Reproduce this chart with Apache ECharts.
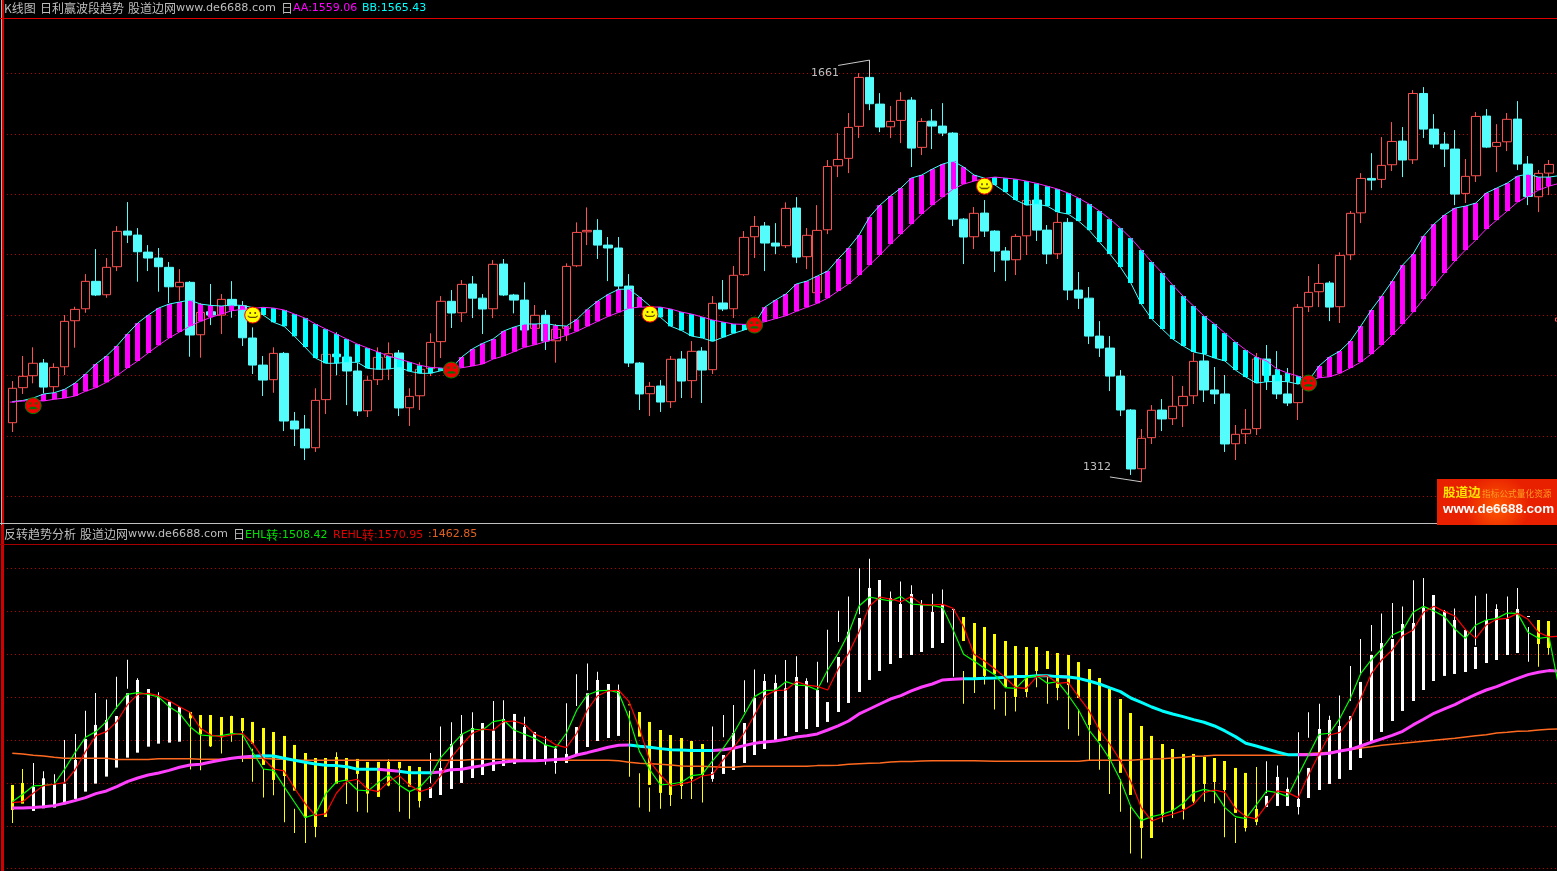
<!DOCTYPE html>
<html><head><meta charset="utf-8">
<style>html,body{margin:0;padding:0;background:#000;overflow:hidden}#c{width:1557px;height:871px}</style>
<script src="https://cdn.jsdelivr.net/npm/echarts@6/dist/echarts.min.js"></script>
</head><body><div id="c"></div>
<script>
const open=[1360.9,1389.9,1399.8,1410.3,1390.7,1407.2,1445.3,1455.2,1477.9,1466.8,
1490,1519.5,1516.2,1502.1,1497.2,1489.5,1473.4,1477.1,1433.7,1452.7,
1450,1463,1457.7,1431,1408.6,1396.5,1418.3,1362.3,1355.7,1340.2,
1380,1417.7,1415.3,1403.7,1370.8,1396.5,1415,1418.6,1373.3,1383.2,
1405.6,1428,1461.4,1451.9,1475.7,1464,1455.2,1492.2,1466.6,1462.4,
1439,1449.8,1428.7,1439,1490.8,1518.9,1520.1,1507.9,1505.5,1474,
1410.3,1384.9,1391.3,1378.3,1413.6,1395.7,1420.2,1404.8,1460,1455.2,
1483.4,1514.8,1523.7,1509.6,1507.4,1538.6,1498.3,1468.5,1520.6,1573.5,
1579.7,1606.2,1646.7,1624.6,1605.8,1611.1,1627.9,1588.8,1610.5,1606.4,
1600.6,1529.4,1514.8,1534.4,1519.5,1503,1495.8,1515.6,1545.2,1520.3,
1500.7,1526.7,1470.7,1464,1432.6,1422.7,1399.5,1371.4,1322.8,1348.5,
1371.4,1364.2,1375,1383.2,1412,1388,1384.7,1343.5,1351.8,1356,
1413.6,1400.1,1384.7,1377.5,1456.9,1469.3,1476.5,1456.9,1499.9,1534.6,
1563.1,1562.3,1574.4,1594,1578.5,1633.4,1603.9,1591.5,1587.4,1550.7,
1565.3,1614.7,1589.6,1593.4,1612.2,1575,1547.9,1567.5,1445];
const close=[1389.4,1399.3,1410.1,1390.4,1406.7,1444.8,1454.7,1477.9,1466.6,1489.5,
1519.3,1516.2,1502.4,1497.2,1490,1473.4,1477.1,1433.5,1452.2,1450,
1463,1457.7,1431.2,1408.6,1396.2,1418.3,1362.3,1355.7,1340,1379.4,
1417.5,1415.5,1403.7,1370.6,1396,1415,1418,1373.1,1382.7,1405.1,
1427.4,1461.4,1451.7,1475.4,1464,1455,1492,1466.6,1462.4,1437.6,
1449.8,1428.5,1438.2,1490.3,1518.4,1520.1,1507.9,1505.5,1474,1410.3,
1384.7,1391,1378,1413.4,1395.4,1420,1404.5,1459.7,1455,1482.9,
1514.3,1523.4,1509.6,1507.1,1538.3,1498,1516,1520.1,1573,1578.8,
1605.3,1646.7,1624.9,1605.6,1610.3,1627.7,1588.2,1610.3,1606.4,1600.6,
1529.4,1514.6,1534.2,1519.5,1503,1495.5,1515.1,1544.9,1520.3,1500.5,
1526.7,1470.7,1464,1432.6,1422.7,1399.5,1371.4,1322.6,1348,1371.2,
1364,1374.5,1382.7,1411.7,1388,1384.7,1343.3,1351.3,1355.5,1413.6,
1400.1,1384.7,1377.2,1456.4,1468.8,1476.2,1456.6,1499.4,1534.2,1563.1,
1561.7,1573.9,1593.7,1578.3,1633.4,1603.9,1591.5,1587.4,1550.1,1564.8,
1614.4,1589,1592.9,1612,1575,1548.2,1567.3,1574.7,1447.5];
const high=[1395.4,1416.1,1423.3,1413.6,1410.1,1450,1456.9,1483.9,1504.6,1497.2,
1523.6,1543.5,1522,1507.9,1505.5,1493.9,1488,1478.1,1460,1475.7,
1467.4,1478.1,1461.6,1439.8,1416.1,1423.3,1419.4,1369.8,1367.3,1389.4,
1421.9,1435.7,1423,1410.3,1399.5,1423.3,1427.4,1421.1,1389.4,1410.9,
1434.9,1465.7,1470.7,1479,1482.3,1467.4,1495.5,1496.4,1467.5,1477.1,
1458.3,1454.2,1442.6,1492.8,1526.7,1539.1,1529.4,1514.6,1514.6,1483.9,
1411.1,1394.6,1396.2,1416.1,1420.2,1428.5,1423.5,1465.7,1479,1490.6,
1519.5,1532,1527,1526.1,1543.3,1547.6,1522,1541,1578.3,1600.6,
1617.2,1650.2,1661,1633.7,1623,1634.5,1630.4,1613,1620.5,1625.4,
1601.4,1530.3,1539.4,1545.2,1520.3,1506.3,1517,1545.2,1546.5,1524.5,
1534.4,1530.3,1485.6,1473.2,1445,1432.6,1404.5,1372.2,1355.7,1375.5,
1380.5,1399.5,1391.3,1418.6,1418.6,1407,1400.4,1359,1372.2,1418.6,
1425.2,1420.2,1406.2,1459.1,1482.3,1492.2,1478.1,1501.9,1536.1,1567.5,
1584,1597.3,1609.7,1605.6,1636.2,1638.7,1616.3,1601.4,1603.1,1579.1,
1618,1620.5,1608,1617.2,1627.1,1581.6,1570,1578.3,1447.5];
const low=[1353.2,1384.7,1393.5,1385.2,1385.2,1400.4,1423,1451.9,1465.7,1464.3,
1486.4,1509.6,1477.6,1486.4,1469.3,1460,1461.8,1415.5,1414.7,1441.7,
1434.3,1447.8,1424.4,1401.2,1383,1385.7,1354,1341.6,1330,1336.7,
1368.1,1400.1,1375.5,1366.4,1365.6,1392.1,1396.2,1366.4,1358.2,1371.4,
1399.5,1414.4,1439.3,1444.2,1447.5,1434.3,1447.5,1465.7,1451.4,1433.5,
1435.1,1421.1,1410.6,1428.5,1489.7,1507.9,1496.4,1478.1,1471.5,1407,
1371.4,1366.4,1369.8,1373.1,1381.3,1381.3,1377.2,1401.2,1453.3,1447.5,
1482.3,1497.2,1486.4,1500.5,1505.5,1493,1488,1468.2,1517,1564.2,
1567.5,1596.5,1619.6,1601.4,1596.5,1592.3,1572.5,1582.4,1587.4,1598.1,
1523.7,1492.2,1504.6,1514.6,1485.6,1478.1,1483.1,1499.7,1511.3,1492.2,
1496.4,1462.4,1455,1426,1415.3,1387.1,1366.4,1317.6,1312,1343.3,
1354,1359,1357.3,1376.4,1378,1376.4,1336.7,1330,1343.3,1350.7,
1388,1380.5,1374.7,1363.1,1452.5,1456.6,1445,1443.4,1495.5,1526.1,
1553.4,1555.1,1569.2,1564.2,1575,1596.5,1588.2,1572.5,1541,1542.7,
1560.1,1588.2,1568.3,1585.7,1570,1541,1535.2,1549.3,1445];
const AA=[1378,1379.1,1379.3,1378.9,1380.3,1381.3,1383,1386.9,1389.9,1394.3,
1399.8,1406.2,1412,1418.6,1425,1431,1436,1440.9,1444.8,1448.1,
1450.8,1453.6,1454.7,1455.4,1456.4,1455.8,1454.2,1450.8,1447.5,1442.6,
1438.4,1434.3,1430.2,1426,1422.7,1419.4,1416.1,1413.6,1411.1,1408.4,
1406.7,1406.2,1404.9,1406.4,1407.8,1409.5,1413.6,1416.1,1419.7,1423.3,
1425.4,1428,1430.4,1433.2,1436.5,1440.7,1444.8,1448.9,1452.2,1455.6,
1456.6,1456.6,1456.6,1455,1452.5,1450.8,1448.4,1445.9,1444.2,1442.6,
1442.3,1442.5,1444.5,1447,1449.4,1453.1,1456.4,1459.7,1464,1469.9,
1475.7,1483.1,1491.4,1499.7,1508.8,1517,1525.3,1533.6,1541,1547.6,
1554.3,1558.4,1560.9,1563,1564.2,1563.4,1562.5,1560.9,1559,1556.7,
1554.3,1551,1546.8,1541.9,1536.1,1529.4,1522,1513.7,1503.8,1493.9,
1484.8,1474.8,1465.7,1457.5,1449.2,1442.6,1435.1,1427.7,1421.1,1415.3,
1412,1405.3,1402,1399.5,1395.4,1398.1,1398.9,1401.8,1406.2,1411.1,
1417.7,1425.2,1433.5,1442.6,1452.5,1463.2,1474,1484.8,1494.7,1503.8,
1512.1,1521.2,1528.6,1536.1,1543.5,1548.5,1553.4,1556.7,1559.06];
const BB=[1378.4,1379.3,1381.3,1384.7,1385.7,1388.5,1393.7,1401.2,1409.5,1416.1,
1424.4,1434.3,1443.4,1450,1455.8,1459.1,1460.8,1462.4,1459.1,1458,
1457.5,1458.3,1458,1456.2,1450,1444,1440.7,1432.4,1423.5,1414.4,
1410.1,1410.1,1410.9,1410.9,1405.9,1405.1,1405.3,1406.7,1403.4,1401.8,
1401.8,1403.9,1405.8,1415.3,1421.9,1426.6,1430.2,1436.8,1440.1,1442.6,
1442.6,1443.1,1441.5,1440.9,1446.4,1454.7,1461.6,1467.1,1471.3,1471.5,
1464.9,1457.5,1448.1,1440.7,1437.3,1432.6,1431,1428.3,1431.6,1434.9,
1437.6,1442.7,1456.6,1462.4,1467.4,1475.7,1478.1,1482.3,1486.4,1496.4,
1505.5,1516.2,1531.1,1541,1548.5,1555.1,1563.4,1565.9,1570.8,1575,
1577.4,1572.5,1565.9,1563.3,1557.6,1551.8,1545.2,1541,1541.8,1540.2,
1535.2,1533.6,1527.8,1520.3,1510.4,1500.5,1489.7,1476.5,1459.1,1446.7,
1438.4,1430.2,1424.4,1419.4,1417.7,1414.4,1412,1404.5,1398.7,1393.7,
1394.8,1395.2,1394.8,1392.9,1395.6,1407.8,1415.3,1420.2,1428.5,1440.9,
1454.2,1465.7,1478.1,1491.4,1500.5,1515.4,1525.3,1532.8,1538.5,1540.2,
1542.7,1551,1555.1,1559.2,1565,1566.7,1564.2,1564.2,1565.43];
const frownIdx=[2,42,71,124], frownVal=[1375,1404.5,1441.7,1393.7];
const smileIdx=[23,61,93], smileVal=[1450,1450.8,1556.7];
const bodyTop=[1397.6,1399.9,1395.2,1405.3,1398.4,1399.1,1426.7,1451.2,1467.5,1473.3,
1477.9,1504.4,1519.9,1509.4,1500.1,1494.6,1488.4,1482.6,1479.1,1479.1,
1476.8,1477.9,1475.6,1471,1464,1459.3,1454.7,1444.2,1434.8,1429,
1429,1430.2,1429,1427.9,1424.4,1424.4,1424.4,1424.4,1419.7,1418.5,
1394.9,1417.4,1445.3,1457,1464,1469.8,1460.9,1474.5,1480.3,1465.1,
1459.3,1444.2,1439.9,1433.7,1465.1,1504.4,1519.9,1515.2,1508.2,1491.5,
1482.6,1471,1461.6,1455.8,1452.3,1448.8,1445.3,1412.7,1432.5,1458.1,
1469.8,1498.9,1518.7,1516.4,1510.2,1523.4,1518.7,1508.2,1494.2,1546.7,
1576.2,1592.1,1627.1,1636.4,1615.4,1608.4,1620.1,1607.3,1599.1,1607.3,
1602.6,1593.3,1586.3,1581.6,1573.5,1565.3,1559.5,1558.3,1558.3,1553.7,
1551.3,1549,1540.8,1532.7,1522.2,1509.4,1497.7,1481.4,1466.3,1454.7,
1445.3,1439.5,1433.7,1433.7,1430.2,1429,1425.5,1417.4,1411.6,1369.6,
1384.8,1406.9,1392.9,1381.3,1417.4,1462.8,1473.3,1466.3,1477.9,1517.6,
1549,1563,1567.6,1585.1,1586.3,1604.2,1618.9,1600.3,1589.8,1578.1,
1558.3,1589.8,1602.6,1590.9,1602.6,1594.4,1589.8,1588.6];
const bodyBot=[1368.4,1375.8,1367.3,1370.4,1371.2,1375,1381.3,1389.8,1399.1,1407.3,
1417.8,1429.4,1435.2,1442.2,1445.7,1446.9,1448,1475.2,1456.6,1442.6,
1453.1,1457.4,1460.5,1445.7,1420.9,1403.4,1408,1391,1359.5,1348.6,
1360.3,1399.1,1402.2,1410.4,1387.5,1383.6,1396.8,1417,1395.6,1378.9,
1382.4,1385.9,1392.9,1399.9,1405.7,1409.2,1413.9,1419.7,1422.1,1426.7,
1426.7,1426.7,1423.2,1423.2,1432.5,1441.8,1448.8,1452.3,1454.7,1490.8,
1453.9,1397.6,1388.3,1385.9,1396.4,1404.6,1409.2,1404.6,1410.4,1415,
1423.2,1432.5,1439.5,1448.8,1454.7,1459.3,1462.8,1465.1,1471,1482.6,
1493.1,1505.9,1519.9,1530.4,1538.5,1545.5,1549,1552.5,1557.2,1563,
1601.8,1565.3,1522.2,1524.6,1526.9,1511.7,1500.1,1505.9,1530.4,1532.7,
1510.6,1514.1,1498.9,1467.5,1448.8,1427.9,1411.6,1385.9,1347.5,1335.8,
1362.6,1367.3,1369.6,1378.2,1398.7,1401,1391.7,1365,1347.5,1354.5,
1371.9,1373.1,1373.1,1371.9,1382.4,1391.7,1398.7,1404.6,1415,1429,
1447.7,1459.3,1472.1,1483.8,1495.4,1508.2,1518.7,1524.6,1526.9,1529.2,
1532.7,1539.7,1543.2,1549,1551.3,1593.7,1561.8,1557.2];
const yellowRuns=[[0,1],[17,39],[59,66],[91,119],[146,147]];
const EHL=[1378.1,1386.7,1396.4,1397.2,1398.4,1415.8,1435.2,1453.1,1459.7,1471.4,
1488.4,1503.2,1505.1,1503.2,1500.1,1488.8,1481.1,1465.5,1455.8,1454.7,
1455,1457.4,1456.6,1435.6,1416.2,1414.6,1395.6,1377.4,1359.5,1363.4,
1387.5,1401,1403.4,1391.7,1390.6,1400.3,1409.2,1397.6,1389.8,1395.2,
1408.5,1429.8,1443.4,1456.6,1462.8,1461.6,1471.4,1473.3,1461.6,1456.6,
1451.9,1444.2,1441.1,1457.8,1484.9,1502.4,1507.1,1507.9,1505.1,1475.2,
1436.4,1415,1397.6,1398.7,1400.7,1408.5,1410,1425.9,1440.3,1457.8,
1479.1,1500.5,1507.5,1508.2,1517.9,1514,1513.3,1508.2,1531.5,1550.9,
1574.3,1606.1,1616.6,1614.2,1611.9,1617,1608.4,1607.3,1606.9,1604.2,
1578.1,1549.8,1542,1533.5,1525.7,1510.9,1510.2,1522.6,1524.9,1516,
1517.9,1502.4,1484.9,1461.6,1446.1,1427.5,1403.4,1372.3,1356,1360.7,
1363.4,1367.7,1376.2,1388.6,1392.5,1389.8,1371.2,1360.7,1358.3,1374.3,
1390.6,1388.6,1384,1408.5,1432.5,1456.6,1457.8,1475.2,1498.5,1527.7,
1543.2,1556,1572.3,1577.7,1598.7,1605.7,1600.3,1593.7,1579.3,1568.4,
1584,1589.8,1591.7,1597.9,1597.5,1575.4,1568.4,1570,1508.42];
const REHL=[1377,1378.1,1387.9,1396.8,1398.4,1400.3,1415,1436.4,1455,1459.7,
1471.4,1490.8,1503.2,1504.4,1501.6,1495.8,1488.8,1482.2,1463.6,1455.8,
1453.5,1455.8,1457.8,1446.1,1428.6,1416.2,1413.9,1393.7,1376.2,1361.8,
1364.2,1387.9,1401.8,1404.2,1392.5,1389.8,1401.5,1408.5,1397.6,1389.8,
1393.7,1408.5,1429.8,1444.2,1457.8,1462.8,1461.3,1471.4,1472.1,1468.2,
1456.6,1451.9,1444.2,1441.1,1457.8,1484.9,1501.6,1507.1,1507.9,1494.6,
1463.6,1424.8,1409.2,1396.4,1398.7,1401.5,1408,1410,1426.7,1441.1,
1457.8,1479.1,1501.6,1507.5,1508.2,1517.9,1514,1512.5,1508.2,1532.7,
1550.9,1576.2,1606.1,1616.6,1614.2,1611.1,1617,1608,1607.3,1608,
1603.4,1582,1549.8,1542,1532.7,1522.6,1510.9,1510.2,1523.8,1524.9,
1516,1517.2,1500.5,1484.2,1461.6,1445,1425.9,1401.5,1371.2,1355.6,
1360.3,1363.4,1367.7,1375,1388.6,1391.7,1389,1370.4,1360.7,1358,
1374.3,1390.6,1388.6,1382.8,1409.2,1433.3,1455.8,1458.9,1474.1,1498.5,
1526.9,1543.2,1554.8,1571.5,1578.1,1598.7,1605.7,1599.5,1594.4,1578.9,
1568.4,1584,1590.6,1591.7,1597.5,1590.6,1575.4,1570,1570.95];
const trendLine=[1370.8,1370.8,1371.2,1372.3,1373.5,1376.2,1379.3,1382.8,1387.5,1390.6,
1395.6,1401.5,1405.7,1409.2,1411.6,1414.6,1418.2,1420.9,1421.6,1424.4,
1426.7,1428.6,1430.2,1431,1431.7,1431.4,1428.6,1426.3,1424,1422,
1420.5,1420.1,1418.9,1415.8,1415.8,1415.8,1414.6,1413.5,1411.9,1411.9,
1411.9,1412.7,1415.4,1415.8,1418.2,1420.1,1422.8,1424.4,1425.5,1425.9,
1425.9,1426.3,1427.1,1428.2,1432.5,1435.2,1438.3,1441.5,1443.8,1444.2,
1442.6,1441.5,1439.9,1438.7,1438.3,1437.6,1437.6,1437.6,1438.7,1440.3,
1443.4,1446.1,1447.7,1448.8,1450.8,1453.5,1455,1457,1461.6,1466.3,
1472.1,1480.3,1486.1,1491.9,1497.7,1501.6,1507.1,1511.7,1515.2,1519.9,
1520.7,1521.4,1521.4,1521.8,1522.2,1523,1523.8,1523.8,1524.9,1524.9,
1523.8,1523.4,1521.8,1518.7,1515.2,1510.6,1506.3,1498.9,1493.9,1488.4,
1483.8,1480.3,1477.2,1473.7,1470.6,1466.3,1460.5,1453.9,1446.1,1443,
1439.5,1436,1432.9,1432.9,1432.9,1433.3,1434.5,1437.2,1439.1,1443,
1447.3,1451.2,1455.4,1460.1,1467.5,1474.1,1481.1,1486.1,1491.1,1497.4,
1503.2,1508.2,1512.1,1517.2,1521.8,1526.1,1528.8,1530.8,1530.4];
const trendFallRuns=[[23,35],[37,40],[59,67],[91,100],[101,123]];
const baseLine=[1434.5,1433.7,1432.1,1431.4,1429.8,1428.6,1428.6,1428.6,1428.6,1428.6,
1427.1,1427.1,1427.1,1427.1,1428.2,1428.2,1428.2,1428.2,1427.5,1427.5,
1427.5,1428.6,1428.6,1428.6,1428.6,1427.9,1427.5,1426.7,1426.3,1426.3,
1426.3,1426.3,1426.3,1426.3,1426.3,1426.3,1426.3,1426.3,1426.3,1426.3,
1426.3,1426.3,1426.3,1426.3,1427.1,1427.5,1427.5,1427.5,1427.5,1426.3,
1426.3,1426.3,1426.3,1426.3,1426.3,1426.3,1426.3,1426.3,1425.9,1424,
1422.8,1422.4,1421.6,1420.9,1419.7,1419.3,1419.3,1418.9,1418.1,1418.1,
1419.3,1419.3,1419.3,1419.3,1419.3,1419.3,1419.3,1420.1,1420.1,1420.5,
1421.6,1422.4,1422.8,1423.2,1424.4,1424.8,1424.8,1425.5,1425.9,1425.9,
1425.9,1425.9,1425.9,1425.5,1425.1,1425.1,1425.1,1425.1,1425.1,1425.1,
1425.1,1425.1,1425.1,1426.3,1426.3,1426.3,1426.3,1426.3,1427.1,1427.9,
1428.2,1429,1429.8,1430.9,1431.4,1432.1,1432.1,1432.1,1432.1,1432.1,
1432.1,1432.1,1432.1,1433.7,1434.1,1434.9,1435.6,1437.2,1438.7,1440.7,
1442.2,1443.8,1445,1446.1,1447.3,1448.5,1449.6,1450.8,1451.9,1453.5,
1455,1456.2,1458.1,1458.9,1460.1,1460.5,1461.6,1462.4,1462.85];
const gridTicks={min:1300,max:1700,step:50};
const headUp=[['K线图',4],['日利赢波段趋势',40],['股道边网',128],['www.de6688.com',176],['日',281]];
const headDn=[['反转趋势分析',4],['股道边网',80],['www.de6688.com',128],['日',233]];
const legendUp=[['AA:1559.06','#FF00FF',293],['BB:1565.43','#00FFFF',362]];
const legendDn=[['EHL转:1508.42','#00E000',245],['REHL转:1570.95','#E00000',333],[':1462.85','#E06020',428]];

const cats=close.map((_,i)=>String(i));
const candle=close.map((c,i)=>[open[i],c,low[i],high[i]]);
const band=close.map((_,i)=>[i,AA[i],BB[i]]);
const wick=close.map((_,i)=>[i,low[i],high[i]]);
const body=bodyTop.map((t,i)=>[i,bodyBot[i],t]);
const isYellow=i=>yellowRuns.some(r=>i>=r[0]&&i<=r[1]);
const inFall=i=>trendFallRuns.some(r=>i>=r[0]&&i<=r[1]);
const trendFall=trendLine.map((v,i)=>inFall(i)?v:null);
const trendRise=trendLine.map((v,i)=>(!inFall(i)||trendFallRuns.some(r=>i===r[0]||i===r[1]))?v:null);

function vbar(api,w,color){
  const x=api.value(0),a=api.coord([x,api.value(1)]),b=api.coord([x,api.value(2)]);
  const left=Math.round(a[0]-w/2),top=Math.min(a[1],b[1]);
  return {type:'rect',shape:{x:left,y:top,width:w,height:Math.max(1,Math.abs(a[1]-b[1]))},style:{fill:color}};
}
const lineBase=(name,data,color,width,xi,extra)=>Object.assign({name,type:'line',data,xAxisIndex:xi,yAxisIndex:xi,
  showSymbol:false,symbol:'none',smooth:false,silent:true,connectNulls:false,lineStyle:{color,width}},extra||{});
const SMILE='path://M2 0h2v3H2z M8 0h2v3H8z M0 5h1v1h1v1h8v-1h1v-1h1v2h-1v1h-1v1H2v-1H1v-1H0z';
const FROWN='path://M2 0h2v3H2z M8 0h2v3H8z M3 6h6v1h1v2H2v-2h1z';
const gridY=i=>({type:'value',gridIndex:i,min:gridTicks.min,max:gridTicks.max,interval:gridTicks.step,
  axisLine:{show:false},axisTick:{show:false},axisLabel:{show:false},
  splitLine:{show:true,showMaxLine:false,lineStyle:{color:'#C00000',width:1,type:[1,3]}}});
const gridX=i=>({type:'category',gridIndex:i,data:cats,boundaryGap:true,show:false});
const headTitle=(p,top)=>{const latin=/^www/.test(p[0]);return {left:p[1],top:latin?top+1:top,padding:0,text:p[0],
  textStyle:{color:'#BEBEBE',fontWeight:'normal',fontSize:latin?11.2:12,fontFamily:latin?'"DejaVu Sans"':'"Noto Sans CJK SC"'}};};
const legTitle=(p,top)=>({left:p[2],top,padding:0,text:p[0].replace(/转/,'{z|转}'),
  textStyle:{color:p[1],fontFamily:'"DejaVu Sans"',fontSize:11,fontWeight:'normal',rich:{z:{fontFamily:'"Noto Sans CJK SC"',fontSize:12,fontWeight:'normal',color:p[1]}}}});

const chart=echarts.init(document.getElementById('c'),null,{renderer:'canvas'});
chart.setOption({
  animation:false,backgroundColor:'#000',
  title:[...headUp.map(p=>headTitle(p,2)),...legendUp.map(p=>legTitle(p,3)),
         ...headDn.map(p=>headTitle(p,528)),...legendDn.map(p=>legTitle(p,529))],
  grid:[{left:7.07,top:13,width:1557.6,height:483.3,outerBoundsMode:'none'},
        {left:7.07,top:525.4,width:1557.6,height:343.3,outerBoundsMode:'none'}],
  xAxis:[gridX(0),gridX(1)],yAxis:[gridY(0),gridY(1)],
  series:[
    {name:'K线',type:'candlestick',data:candle,xAxisIndex:0,yAxisIndex:0,barWidth:9,silent:true,
      itemStyle:{color:'#000',color0:'#54FCFC',borderColor:'#FF5050',borderColor0:'#54FCFC',borderColorDoji:'#FF5050',borderWidth:1},
      markLine:{silent:true,symbol:'none',label:{show:false},lineStyle:{color:'#C8C8C8',width:1,type:'solid'},animation:false,
        data:[[{coord:[79,1656.6]},{coord:[82,1661]}],[{coord:[82,1661]},{coord:[82,1646.7]}],
              [{coord:[105,1316]},{coord:[108,1312]}]]},
      markPoint:{silent:true,symbol:'circle',symbolSize:0,animation:false,
        label:{show:true,color:'#BEBEBE',fontFamily:'"DejaVu Sans"',fontSize:11,position:'inside'},
        data:[{coord:[78,1650],value:1661,label:{offset:[-2.7,0]}},{coord:[104,1324.3],value:1312,label:{offset:[-2.5,0]}}]}},
    {name:'band',type:'custom',data:band,xAxisIndex:0,yAxisIndex:0,silent:true,encode:{x:0,y:[1,2]},
      renderItem:(p,api)=>vbar(api,5,api.value(2)>api.value(1)?'#FF00FF':'#00FFFF'),z:3},
    lineBase('BB',BB,'#40FFFF',1,0,{z:4}),
    lineBase('AA',AA,'#FF20FF',1,0,{z:4}),
    {name:'smile',type:'scatter',xAxisIndex:0,yAxisIndex:0,silent:true,z:5,data:smileIdx.map((x,i)=>[x,smileVal[i]]),
      symbol:'circle',symbolSize:16,itemStyle:{color:'#FFFF00',borderColor:'#FF0000',borderWidth:1,opacity:1}},
    {name:'frown',type:'scatter',xAxisIndex:0,yAxisIndex:0,silent:true,z:5,data:frownIdx.map((x,i)=>[x,frownVal[i]]),
      symbol:'circle',symbolSize:16,itemStyle:{color:'#F00000',borderColor:'#008000',borderWidth:1,opacity:1}},
    {name:'smileFace',type:'scatter',xAxisIndex:0,yAxisIndex:0,silent:true,z:6,data:smileIdx.map((x,i)=>[x,smileVal[i]]),
      symbol:SMILE,symbolKeepAspect:true,symbolSize:[10,8],itemStyle:{color:'#6A4A00',opacity:1}},
    {name:'frownFace',type:'scatter',xAxisIndex:0,yAxisIndex:0,silent:true,z:6,data:frownIdx.map((x,i)=>[x,frownVal[i]]),
      symbol:FROWN,symbolKeepAspect:true,symbolSize:[9,7],itemStyle:{color:'#087008',opacity:1}},
    lineBase('trendRise',trendRise,'#FF40FF',3,1,{z:5}),
    lineBase('trendFall',trendFall,'#00FFFF',3,1,{z:5}),
    {name:'wick',type:'custom',data:wick,xAxisIndex:1,yAxisIndex:1,silent:true,encode:{x:0,y:[1,2]},
      renderItem:(p,api)=>vbar(api,1,isYellow(p.dataIndex)?'#FFFF00':'#FFFFFF'),z:2},
    {name:'body',type:'custom',data:body,xAxisIndex:1,yAxisIndex:1,silent:true,encode:{x:0,y:[1,2]},
      renderItem:(p,api)=>vbar(api,3,isYellow(p.dataIndex)?'#FFFF00':'#FFFFFF'),z:2},
    lineBase('base',baseLine,'#FF6A20',1.5,1,{z:4}),
    lineBase('EHL',EHL,'#00FF00',1.2,1,{z:6}),
    lineBase('REHL',REHL,'#FF0000',1.2,1,{z:7})
  ],
  graphic:[
    {type:'rect',silent:true,z:50,shape:{x:2,y:0,width:2,height:871},style:{fill:'#D00000'}},
    {type:'rect',silent:true,z:50,shape:{x:1,y:0,width:1,height:525},style:{fill:'#B0B0B0'}},
    {type:'rect',silent:true,z:50,shape:{x:1,y:525,width:1,height:346},style:{fill:'#D00000'}},
    {type:'rect',silent:true,z:50,shape:{x:0,y:18,width:1557,height:1},style:{fill:'#E00000'}},
    {type:'rect',silent:true,z:50,shape:{x:0,y:523,width:1557,height:1},style:{fill:'#C0C0C0'}},
    {type:'rect',silent:true,z:50,shape:{x:0,y:544,width:1557,height:1},style:{fill:'#A80000'}},
    {type:'rect',silent:true,z:60,shape:{x:1437,y:479,width:120,height:46},
      style:{fill:new echarts.graphic.RadialGradient(0.5,0.6,0.7,[{offset:0,color:'#FF5A00'},{offset:1,color:'#E82000'}])}},
    {type:'text',silent:true,z:61,x:1443,y:486,style:{text:'股道边',fill:'#FFE600',font:'bold 12.5px "Noto Sans CJK SC"'}},
    {type:'text',silent:true,z:61,x:1482,y:489,style:{text:'指标公式量化资源',fill:'#FF9A20',font:'8.7px "Noto Sans CJK SC"'}},
    {type:'text',silent:true,z:61,x:1443,y:503,style:{text:'www.de6688.com',fill:'#FFFFFF',font:'bold 13.4px "Liberation Sans"'}}
  ]
});
</script></body></html>
